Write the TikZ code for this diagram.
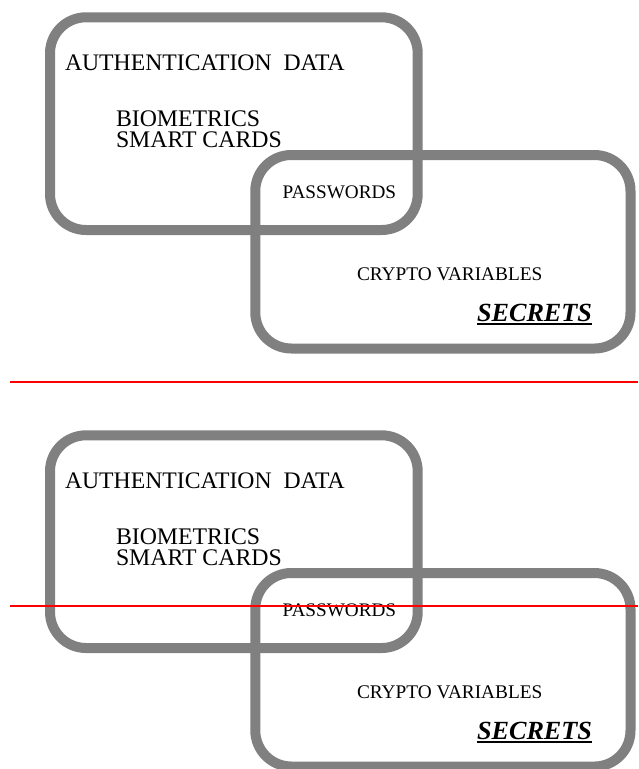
\documentclass[tikz,border=0pt]{standalone}
\usepackage{fontspec}
\setmainfont{Liberation Serif}
\definecolor{boxgray}{RGB}{128,128,128}
\tikzset{
  frame/.style={draw=boxgray, line width=10pt, rounded corners=36pt},
  lbl/.style={anchor=base west, inner sep=0pt, outer sep=0pt, text=black},
  redline/.style={draw=red, line width=2pt},
  uline/.style={draw=black, line width=2pt}
}
\newcommand\diagramcopy[2]{%
  \begin{scope}[yshift=#2]
    \draw[frame] (50,17.3) rectangle (417.7,230);
    \draw[frame] (255.3,155) rectangle (630.5,348.5);
    \node[lbl, font=\fontsize{23.7}{23.7}\selectfont] (#1auth) at (65,70.7) {AUTHENTICATION\ \ DATA};
    \node[lbl, font=\fontsize{23.8}{23.8}\selectfont] (#1bio) at (116,126) {BIOMETRICS};
    \node[lbl, font=\fontsize{23.8}{23.8}\selectfont] (#1smart) at (116,147.7) {SMART CARDS};
    \node[lbl, font=\fontsize{19.2}{19.2}\selectfont] (#1pass) at (282.7,198.3) {PASSWORDS};
    \node[lbl, font=\fontsize{19.3}{19.3}\selectfont] (#1crypto) at (357,280) {CRYPTO VARIABLES};
    \node[lbl, font=\fontsize{26.2}{26.2}\selectfont\bfseries\itshape] (#1sec) at (477,321.7) {SECRETS};
    \draw[uline] ([yshift=-2.6pt]#1sec.base west) -- ([yshift=-2.6pt]#1sec.base east);
  \end{scope}}
\begin{document}
\begin{tikzpicture}[x=1pt,y=-1pt]
  \useasboundingbox (0,0) rectangle (638,769);
  \diagramcopy{a}{0pt}
  \diagramcopy{b}{-418pt}
  \draw[redline] (10,381.7) -- (638,381.7);
  \draw[redline] (10,606) -- (638,606);
\end{tikzpicture}
\end{document}
